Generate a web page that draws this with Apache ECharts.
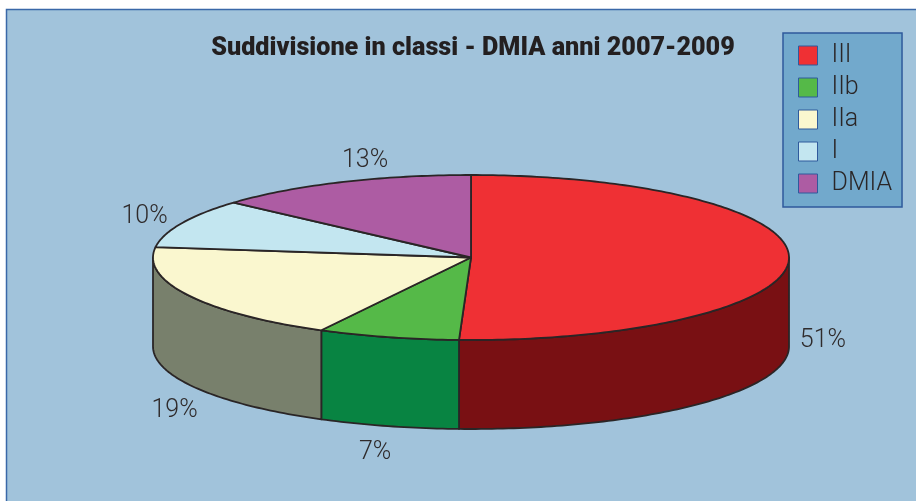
<!DOCTYPE html>
<html><head><meta charset="utf-8">
<style>html,body{margin:0;padding:0;background:#fff}#c{width:916px;height:501px}</style>
<script src="https://cdn.jsdelivr.net/npm/echarts@6/dist/echarts.min.js"></script>
</head><body><div id="c"></div>
<script>
const titleText = 'Suddivisione in classi - DMIA anni 2007-2009';
const categories = ['III', 'IIb', 'IIa', 'I', 'DMIA'];
const shares = [50.6, 7.2, 19.2, 9.6, 13.4];
const topColors = ['#ef3034', '#55b948', '#faf7cf', '#c3e6f0', '#ad5ca3'];
const sideColors = ['#791013', '#088442', '#78806c', '#c3e6f0', '#ad5ca3'];
const labelOffsets = [[34, 81.5], [-13, 115.5], [-14, 115.5], [-37, -6.5], [24, -21.5]];

const CX = 471, CY = 257.5, RX = 318, RY = 82.5, DEPTH = 89;
const LINE = '#2a2526';
const total = shares.reduce((a, b) => a + b, 0);
const rim = (deg, dy) => {
  const r = deg * Math.PI / 180;
  return [CX + RX * Math.sin(r), CY - RY * Math.cos(r) + (dy || 0)];
};
const startAngle = i => shares.slice(0, i).reduce((a, b) => a + b, 0) / total * 360;

function arcPoints(a, b, dy) {
  const pts = [], n = Math.max(2, Math.ceil(Math.abs(b - a)));
  for (let k = 0; k <= n; k++) pts.push(rim(a + (b - a) * k / n, dy));
  return pts;
}

function slice(i) {
  return function (params, api) {
    const span = api.value(0) / total * 360;
    const a = startAngle(i), b = a + span;
    const children = [];
    const fa = Math.max(a, 90), fb = Math.min(b, 270);
    if (fb > fa) {
      children.push({
        type: 'polygon',
        shape: { points: arcPoints(fa, fb, 0).concat(arcPoints(fb, fa, DEPTH)) },
        style: { fill: sideColors[i], stroke: LINE, lineWidth: 1.8, lineJoin: 'round' }
      });
    }
    children.push({
      type: 'polygon',
      shape: { points: [[CX, CY]].concat(arcPoints(a, b, 0)) },
      style: { fill: topColors[i], stroke: LINE, lineWidth: 1.8, lineJoin: 'round' }
    });
    const m = rim((a + b) / 2, 0);
    children.push({
      type: 'text',
      style: {
        x: m[0] + labelOffsets[i][0], y: m[1] + labelOffsets[i][1],
        text: Math.round(api.value(0)) + '%', fill: '#2f2b2c',
        font: '300 25px Roboto', align: 'center', verticalAlign: 'middle'
      }
    });
    return { type: 'group', children };
  };
}

const chart = echarts.init(document.getElementById('c'), null, { renderer: 'canvas' });
chart.setOption({
  animation: false,
  backgroundColor: '#ffffff',
  graphic: [{
    type: 'rect', z: -10,
    shape: { x: 6.5, y: 9.5, width: 930, height: 510 },
    style: { fill: '#a1c3db', stroke: '#3a68a8', lineWidth: 1.5 }
  }],
  title: {
    text: titleText, left: 473, top: 36, textAlign: 'center', padding: 0,
    textStyle: { fontFamily: 'Roboto', fontWeight: 900, fontSize: 25.2, color: '#231f20' }
  },
  legend: {
    orient: 'vertical', left: 783, top: 33,
    padding: [10, 10, 11, 15], itemGap: 7, itemWidth: 19, itemHeight: 19,
    backgroundColor: '#72a9cc', borderColor: '#2f5a9c', borderWidth: 1.5,
    icon: 'rect', selectedMode: false, data: categories,
    itemStyle: { borderColor: '#2f5a9c', borderWidth: 1 },
    textStyle: { fontFamily: 'Roboto', fontWeight: 300, fontSize: 25, color: '#2a2627', padding: [0, 0, 0, 9] }
  },
  series: categories.map((name, i) => ({
    type: 'custom', name, coordinateSystem: 'none', silent: true,
    itemStyle: { color: topColors[i] },
    renderItem: slice(i),
    data: [[shares[i]]]
  }))
});
</script></body></html>
